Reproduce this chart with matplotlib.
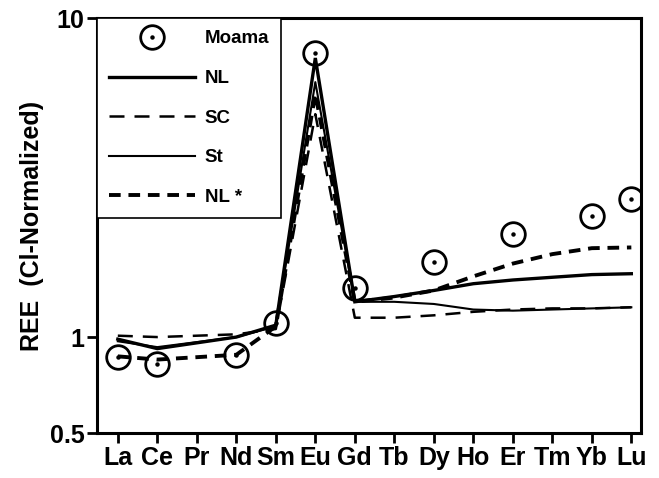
import numpy as np
import matplotlib.pyplot as plt
from matplotlib.ticker import NullLocator, FixedLocator, FixedFormatter

plt.rcParams['font.family'] = ['Liberation Sans', 'DejaVu Sans']
plt.rcParams['font.weight'] = 'bold'

# REE pattern data (CI-normalized), None = not plotted
elements = ["La", "Ce", "Pr", "Nd", "Sm", "Eu", "Gd", "Tb", "Dy", "Ho", "Er", "Tm", "Yb", "Lu"]
moama = [0.865, 0.822, None, 0.88, 1.106, 7.77, 1.43, None, 1.72, None, 2.10, None, 2.39, 2.71]
nl = [0.985, 0.92, None, 1.0, 1.09, 7.5, 1.29, 1.34, 1.40, 1.47, 1.51, 1.54, 1.57, 1.58]
sc = [1.01, 1.00, None, 1.02, 1.06, 5.0, 1.15, 1.15, 1.17, 1.20, 1.22, 1.23, 1.23, 1.24]
st = [0.97, 0.93, None, 1.0, 1.08, 6.3, 1.29, 1.29, 1.27, 1.22, 1.21, 1.22, 1.23, 1.24]
nl_star = [0.87, 0.85, None, 0.88, 1.08, 5.8, 1.29, 1.33, 1.40, 1.55, 1.70, 1.82, 1.90, 1.91]


def xy(vals):
    pts = [(i, v) for i, v in enumerate(vals) if v is not None]
    return np.array([p[0] for p in pts]), np.array([p[1] for p in pts])


fig = plt.figure(figsize=(6.59, 4.78), dpi=100)
ax = fig.add_axes([0.147, 0.094, 0.826, 0.868])

x, y = xy(nl)
h_nl, = ax.plot(x, y, color="black", lw=2.4, solid_joinstyle="miter")
x, y = xy(sc)
h_sc, = ax.plot(x, y, color="black", lw=1.8, linestyle=(0, (6, 4)))
x, y = xy(st)
h_st, = ax.plot(x, y, color="black", lw=1.5)
x, y = xy(nl_star)
h_nls, = ax.plot(x, y, color="black", lw=2.8, linestyle=(0, (3, 2)))

x, y = xy(moama)
h_circ, = ax.plot(x, y, linestyle="none", marker="o", markersize=17,
                  markerfacecolor="none", markeredgecolor="black", markeredgewidth=2)
h_dot, = ax.plot(x, y, linestyle="none", marker="o", markersize=2.2, color="black")

ax.set_yscale("log")
ax.set_ylim(0.5, 10)
ax.set_xlim(-0.53, 13.25)
ax.yaxis.set_major_locator(FixedLocator([0.5, 1, 10]))
ax.yaxis.set_major_formatter(FixedFormatter(["0.5", "1", "10"]))
ax.yaxis.set_minor_locator(NullLocator())
ax.set_xticks(range(len(elements)))
ax.set_xticklabels(elements)

for s in ax.spines.values():
    s.set_linewidth(2.2)
ax.tick_params(axis="both", direction="out", length=7, width=2, labelsize=18, pad=2)
ax.set_ylabel("REE  (Cl-Normalized)", fontsize=18, fontweight="bold", labelpad=4)

leg = ax.legend([(h_circ, h_dot), h_nl, h_sc, h_st, h_nls],
                ["Moama", "NL", "SC", "St", "NL *"],
                loc="upper left", bbox_to_anchor=(0, 1), borderaxespad=0,
                fancybox=False, edgecolor="black", framealpha=1,
                fontsize=13.5, handlelength=4.6, handletextpad=0.5,
                labelspacing=1.2, borderpad=0.65, numpoints=1)
leg.get_frame().set_linewidth(1.2)

fig.savefig("out.png", dpi=100)
